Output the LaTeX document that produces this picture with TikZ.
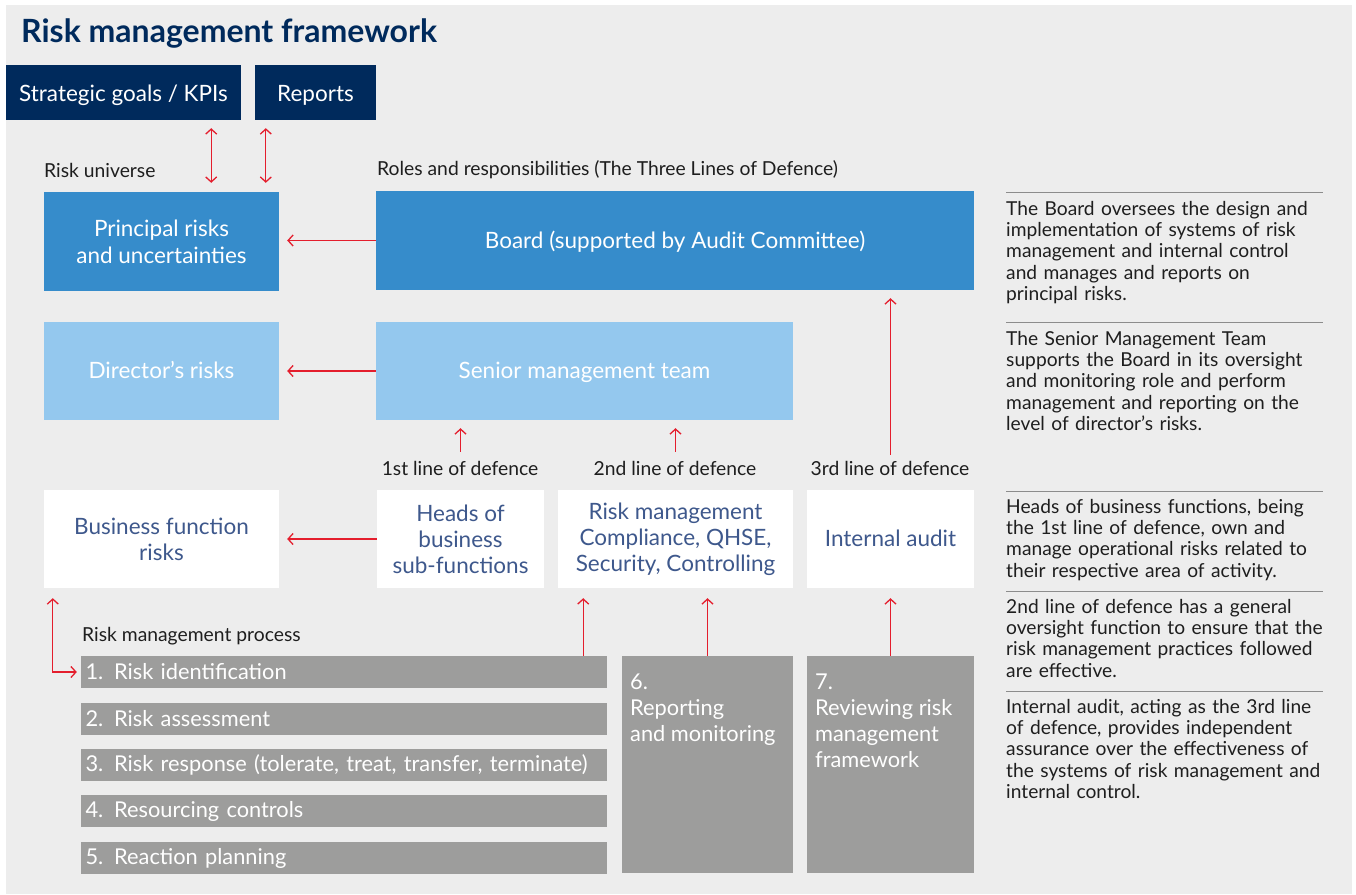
\documentclass[tikz,border=0pt]{standalone}
\usepackage{fontspec}
\setmainfont{Lato}
\usetikzlibrary{arrows.meta}
\definecolor{bg}{RGB}{237,237,237}
\definecolor{navy}{RGB}{0,42,92}
\definecolor{midblue}{RGB}{54,140,203}
\definecolor{lightblue}{RGB}{148,200,238}
\definecolor{boxgray}{RGB}{157,157,156}
\definecolor{arrred}{RGB}{228,30,45}
\definecolor{wtext}{RGB}{62,88,140}
\definecolor{rulegray}{RGB}{140,140,140}
\definecolor{bodytext}{RGB}{30,30,30}
\begin{document}
\begin{tikzpicture}[x=1pt,y=-1pt,
  box/.style={inner sep=0pt, align=center, font=\fontsize{22.5}{27}\selectfont},
  navybox/.style={box, fill=navy, text=white, minimum height=55pt, text height=23pt, text depth=5pt},
  oneline/.style={text height=20.5pt, text depth=4.7pt},
  bluebox/.style={box, fill=midblue, text=white, minimum height=99pt},
  lbluebox/.style={box, fill=lightblue, text=white, minimum height=98pt},
  whitebox/.style={box, fill=white, text=wtext, minimum height=98pt, font=\fontsize{22.5}{26}\selectfont},
  bar/.style={inner sep=0pt, fill=boxgray, text=white, minimum width=526pt, minimum height=32pt, align=left, font=\fontsize{21.8}{24}\selectfont},
  tallbox/.style={inner sep=0pt, fill=boxgray, minimum height=217pt},
  talltext/.style={inner sep=0pt, anchor=north west, text=white, align=left, font=\fontsize{21.8}{26}\selectfont},
  lbl/.style={inner sep=0pt, text=bodytext, font=\fontsize{19.3}{21}\selectfont},
  side/.style={inner sep=0pt, anchor=north west, text=bodytext, align=left, text width=340pt, font=\fontsize{19.2}{21.3}\selectfont},
  sep/.style={draw=rulegray, line width=1pt},
  arr/.style={draw=arrred, line width=1.3pt, -{Straight Barb[length=5pt,width=11pt]}},
  darr/.style={draw=arrred, line width=1.3pt, {Straight Barb[length=5pt,width=11pt]}-{Straight Barb[length=5pt,width=11pt]}}
]
\useasboundingbox (0,0) rectangle (1356,894);
\fill[white] (0,0) rectangle (1356,894);
\fill[bg] (6,5) rectangle (1352,894);

% title
\node[inner sep=0pt, anchor=west, text=navy, font=\fontsize{32}{36}\selectfont\bfseries] (title) at (21,33) {Risk management framework};

% top boxes
\node[navybox, minimum width=235pt] (sg) at (123.5,92.5) {Strategic goals / KPIs};
\node[navybox, minimum width=121pt] (rep) at (315.5,92.5) {Reports};

% section labels
\node[lbl, anchor=west] (ru) at (44,170) {Risk universe};
\node[lbl, anchor=west] (rr) at (377,170) {Roles and responsibilities (The Three Lines of Defence)};

% row 1
\node[bluebox, minimum width=235pt] (principal) at (161.5,241.5) {Principal risks\\and uncertainties};
\node[bluebox, oneline, minimum width=598pt] (board) at (675,240.5) {Board (supported by Audit Committee)};

% row 2
\node[lbluebox, oneline, minimum width=235pt] (director) at (161.5,371) {Director’s risks};
\node[lbluebox, oneline, minimum width=417pt] (smt) at (584.5,371) {Senior management team};

% line labels
\node[lbl] (l1) at (460,468) {1st line of defence};
\node[lbl] (l2) at (675,468) {2nd line of defence};
\node[lbl] (l3) at (890,468) {3rd line of defence};

% row 3
\node[whitebox, minimum width=235pt] (bfr) at (161.5,539) {Business function\\risks};
\node[whitebox, minimum width=167pt] (heads) at (460.5,539) {Heads of\\business\\sub-functions};
\node[whitebox, minimum width=235pt] (rm) at (675.5,539) {Risk management\\Compliance, QHSE,\\Security, Controlling};
\node[whitebox, oneline, minimum width=167pt] (ia) at (890.5,539) {Internal audit};

% process
\node[lbl, anchor=west] (rmp) at (82,636) {Risk management process};
\node[bar, text width=517pt] (p1) at (344,672) {1. Risk identification};
\node[bar, text width=517pt] (p2) at (344,719) {2. Risk assessment};
\node[bar, text width=517pt] (p3) at (344,765) {3. Risk response (tolerate, treat, transfer, terminate)};
\node[bar, text width=517pt] (p4) at (344,811) {4. Resourcing controls};
\node[bar, text width=517pt] (p5) at (344,858) {5. Reaction planning};

\node[tallbox, minimum width=171pt] (p6) at (707.5,764.5) {};
\node[talltext] (p6t) at (630,674) {6.\\Reporting\\and monitoring};
\node[tallbox, minimum width=167pt] (p7) at (890.5,764.5) {};
\node[talltext] (p7t) at (815,674) {7.\\Reviewing risk\\management\\framework};

% right side text
\draw[sep] (1006,192) coordinate (s1a) -- (1323,192) coordinate (s1b);
\node[side] (t1) at (1006,201) {The Board oversees the design and\\implementation of systems of risk\\management and internal control\\and manages and reports on\\principal risks.};
\draw[sep] (1006,322) coordinate (s2a) -- (1323,322) coordinate (s2b);
\node[side] (t2) at (1006,331) {The Senior Management Team\\supports the Board in its oversight\\and monitoring role and perform\\management and reporting on the\\level of director’s risks.};
\draw[sep] (1006,491) coordinate (s3a) -- (1323,491) coordinate (s3b);
\node[side] (t3) at (1006,499) {Heads of business functions, being\\the 1st line of defence, own and\\manage operational risks related to\\their respective area of activity.};
\draw[sep] (1006,591) coordinate (s4a) -- (1323,591) coordinate (s4b);
\node[side] (t4) at (1006,599) {2nd line of defence has a general\\oversight function to ensure that the\\risk management practices followed\\are effective.};
\draw[sep] (1006,691) coordinate (s5a) -- (1323,691) coordinate (s5b);
\node[side] (t5) at (1006,699) {Internal audit, acting as the 3rd line\\of defence, provides independent\\assurance over the effectiveness of\\the systems of risk management and\\internal control.};

% arrows
\draw[darr, shorten <=8pt, shorten >=8pt] ([xshift=-30pt]sg.south east) -- ([xshift=-30pt]sg.south east |- board.north);
\draw[darr, shorten <=8pt, shorten >=8pt] ([xshift=11pt]rep.south west) -- ([xshift=11pt]rep.south west |- board.north);
\draw[arr, shorten >=8pt] (board.west) -- (board.west -| principal.east);
\draw[arr, shorten >=8pt] (smt.west) -- (director.east);
\draw[arr, shorten >=8pt] (heads.west) -- (bfr.east);
\draw[arr, shorten >=8pt] ([yshift=38pt]heads.north) -- (heads.north |- smt.south);
\draw[arr, shorten >=8pt] ([yshift=38pt]rm.north) -- (rm.north |- smt.south);
\draw[arr, shorten >=8pt] ([yshift=35pt]ia.north) -- (ia.north |- board.south);
\draw[darr, shorten <=10pt, shorten >=4pt] ([xshift=9pt]bfr.south west) |- (p1.west);
\draw[arr, shorten >=10pt] ([xshift=-24pt]p1.north east) -- ([xshift=-24pt]p1.north east |- rm.south);
\draw[arr, shorten >=10pt] (p6.north) -- (p6.north |- rm.south);
\draw[arr, shorten >=10pt] (p7.north) -- (p7.north |- ia.south);
\end{tikzpicture}
\end{document}
